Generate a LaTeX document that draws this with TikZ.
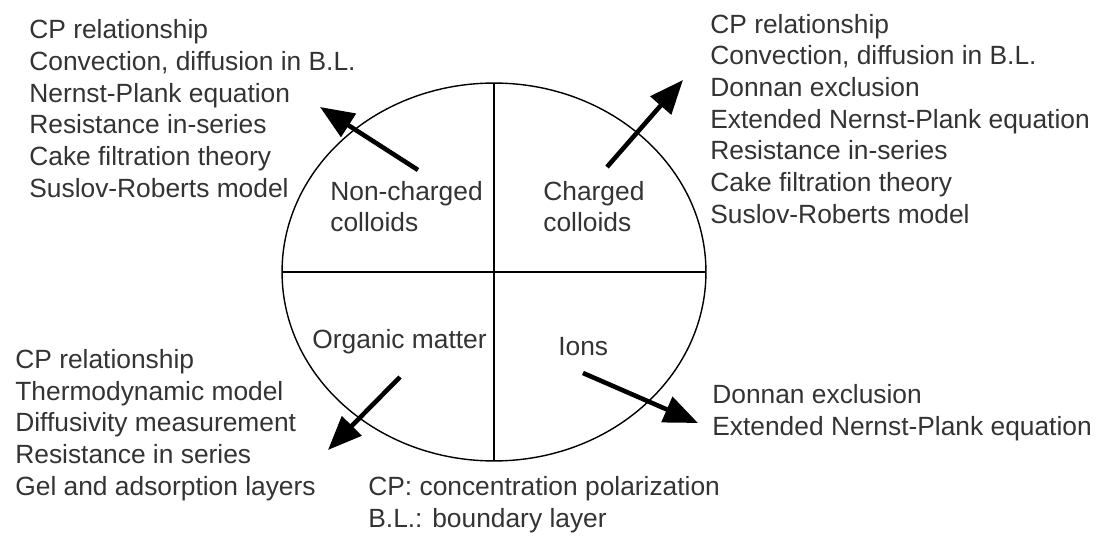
\documentclass[tikz,border=0pt]{standalone}
\usepackage{fontspec}
\setmainfont{Liberation Sans}
\usetikzlibrary{arrows.meta}
\usetikzlibrary{shapes.geometric}

\begin{document}
\begin{tikzpicture}[x=0.02cm, y=-0.02cm,
    every node/.style={font=\fontsize{15}{18}\selectfont, text=black!80, inner sep=0pt},
    list/.style={anchor=base west, align=left},
    bigarrow/.style={-{Triangle[length=0.68cm, width=0.54cm]}, line width=2.6pt}]
    \useasboundingbox (0,0) rectangle (1096,537);

    % Disc and quadrants
    \node[draw, ellipse, line width=0.8pt, outer sep=0pt,
          minimum width=8.48cm, minimum height=7.56cm] (disc) at (494,272) {};
    \draw[line width=0.8pt] (disc.north) -- (disc.south);
    \draw[line width=0.8pt] (disc.west) -- (disc.east);

    % Quadrant labels (anchored at the last line)
    \node[list] (noncharged) at (330,232) {Non-charged\\colloids};
    \node[list] (charged) at (543,232) {Charged\\colloids};
    \node[list] (organic) at (312,348) {Organic matter};
    \node[list] (ions) at (558,355) {Ions};

    % Models
    \node[list] (ncmodels) at (29,197) {CP relationship\\Convection, diffusion in B.L.\\Nernst-Plank equation\\Resistance in-series\\Cake filtration theory\\Suslov-Roberts model};
    \node[list] (chmodels) at (710,223) {CP relationship\\Convection, diffusion in B.L.\\Donnan exclusion\\Extended Nernst-Plank equation\\Resistance in-series\\Cake filtration theory\\Suslov-Roberts model};
    \node[list] (ommodels) at (15,495) {CP relationship\\Thermodynamic model\\Diffusivity measurement\\Resistance in series\\Gel and adsorption layers};
    \node[list] (ionmodels) at (712,435) {Donnan exclusion\\Extended Nernst-Plank equation};

    % Legend
    \node[list] (legend) at (368,527) {CP: concentration polarization\\B.L.: boundary layer};

    % Arrows
    \coordinate (nc-tail) at (418,170);
    \coordinate (nc-tip) at (320,107);
    \coordinate (ch-tail) at (607,167);
    \coordinate (ch-tip) at (683,80);
    \coordinate (om-tail) at (400,377);
    \coordinate (om-tip) at (328,450);
    \coordinate (ion-tail) at (583,373);
    \coordinate (ion-tip) at (698,423);
    \draw[bigarrow] (nc-tail) -- (nc-tip);
    \draw[bigarrow] (ch-tail) -- (ch-tip);
    \draw[bigarrow] (om-tail) -- (om-tip);
    \draw[bigarrow] (ion-tail) -- (ion-tip);
\end{tikzpicture}
\end{document}
